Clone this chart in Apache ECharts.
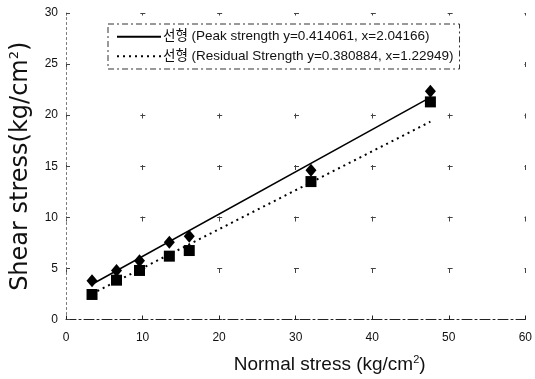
<!DOCTYPE html>
<html>
<head>
<meta charset="utf-8">
<script src="https://cdn.jsdelivr.net/npm/echarts@6/dist/echarts.min.js"></script>
<style>html,body{margin:0;padding:0;background:#fff;}#c{width:535px;height:379px;}</style>
</head>
<body>
<div id="c"></div>
<script>
// Data
var normalStress = [3.4, 6.6, 9.6, 13.5, 16.1, 32.0, 47.6];
var peakShear = [3.8, 4.8, 5.75, 7.55, 8.15, 14.6, 22.35];
var residualShear = [2.45, 3.85, 4.8, 6.2, 6.75, 13.5, 21.3];
// Fitted lines (endpoints from the legend equations, over the data range)
var peakLineX = [3.4, 47.6];
var peakLineY = [3.45, 21.75];
var residualLineX = [3.4, 47.6];
var residualLineY = [2.52, 19.36];
var peakName = '선형 (Peak strength y=0.414061, x=2.04166)';
var residualName = '선형 (Residual Strength y=0.380884, x=1.22949)';
var xTicks = [0, 10, 20, 30, 40, 50, 60];
var yTicks = [0, 5, 10, 15, 20, 25, 30];

function pairs(xs, ys) { return xs.map(function (x, i) { return [x, ys[i]]; }); }

var FONT = 'Liberation Sans, Arial, "Noto Sans CJK KR", sans-serif';
var chart = echarts.init(document.getElementById('c'));
var gridLeft = 66, gridRight = 8, gridTop = 13, gridBottom = 57;
var plotW = 535 - gridLeft - gridRight, plotH = 379 - gridTop - gridBottom;
var stepX = plotW / (xTicks.length - 1), stepY = plotH / (yTicks.length - 1);

chart.setOption({
  animation: false,
  backgroundColor: '#fff',
  textStyle: { fontFamily: FONT, color: '#111' },
  grid: { left: gridLeft, right: gridRight, top: gridTop, bottom: gridBottom },
  legend: {
    data: [peakName, residualName],
    orient: 'vertical',
    left: 108, top: 24,
    itemWidth: 44, itemHeight: 12, itemGap: 6,
    padding: [6, 6, 6, 8],
    borderColor: '#333', borderWidth: 1, borderType: [6, 3, 2, 3],
    backgroundColor: '#fff',
    itemStyle: { opacity: 0 },
    textStyle: { fontFamily: FONT, fontSize: 13.5, color: '#111', padding: [0, 0, 0, -3] }
  },
  xAxis: {
    type: 'value', min: 0, max: 60, interval: 10,
    name: 'Normal stress (kg/cm{sup|2})',
    nameLocation: 'middle', nameGap: 35,
    nameTextStyle: {
      fontFamily: FONT, fontSize: 19, color: '#111', padding: [0, 0, 0, 68],
      rich: { sup: { fontSize: 11, fontFamily: FONT, color: '#111', verticalAlign: 'top', padding: [0, 0, 9, 0] } }
    },
    axisLine: { show: true, lineStyle: { color: '#222', width: 1, type: [10, 3, 2, 3] } },
    axisTick: { show: true, inside: true, length: 4, lineStyle: { color: '#222' } },
    axisLabel: { fontSize: 12, color: '#111', margin: 12, formatter: function (v) { return xTicks.indexOf(v) >= 0 ? String(v) : ''; } },
    splitLine: { show: true, lineStyle: { color: '#444', width: 1, type: [5, stepY - 5], dashOffset: 2.5 } }
  },
  yAxis: {
    type: 'value', min: 0, max: 30, interval: 5,
    name: 'Shear stress(kg/cm{sup|2})',
    nameLocation: 'middle', nameGap: 33, nameRotate: 90,
    nameTextStyle: {
      fontFamily: 'DejaVu Sans, sans-serif', fontSize: 24, color: '#111',
      rich: { sup: { fontSize: 13, fontFamily: 'DejaVu Sans, sans-serif', color: '#111', verticalAlign: 'top', padding: [0, 0, 12, 0] } }
    },
    axisLine: { show: true, lineStyle: { color: '#777', width: 1, type: [2, 3] } },
    axisTick: { show: true, inside: true, length: 4, lineStyle: { color: '#444' } },
    axisLabel: { fontSize: 12, color: '#111', margin: 8, formatter: function (v) { return yTicks.indexOf(v) >= 0 ? String(v) : ''; } },
    splitLine: { show: true, lineStyle: { color: '#444', width: 1, type: [5, stepX - 5], dashOffset: 2.5 } }
  },
  series: [
    {
      name: peakName, type: 'line', data: pairs(peakLineX, peakLineY),
      symbol: 'none', lineStyle: { color: '#000', width: 1.5, type: 'solid' }, itemStyle: { color: '#000' }, z: 3
    },
    {
      name: residualName, type: 'line', data: pairs(residualLineX, residualLineY),
      symbol: 'none', lineStyle: { color: '#000', width: 2, type: [2, 4] }, itemStyle: { color: '#000' }, z: 3
    },
    {
      name: 'Peak', type: 'scatter', data: pairs(normalStress, peakShear),
      symbol: 'diamond', symbolSize: [11, 13], itemStyle: { color: '#000', opacity: 1 }, z: 4
    },
    {
      name: 'Residual', type: 'scatter', data: pairs(normalStress, residualShear),
      symbol: 'rect', symbolSize: 11, itemStyle: { color: '#000', opacity: 1 }, z: 4
    }
  ]
});
</script>
</body>
</html>
